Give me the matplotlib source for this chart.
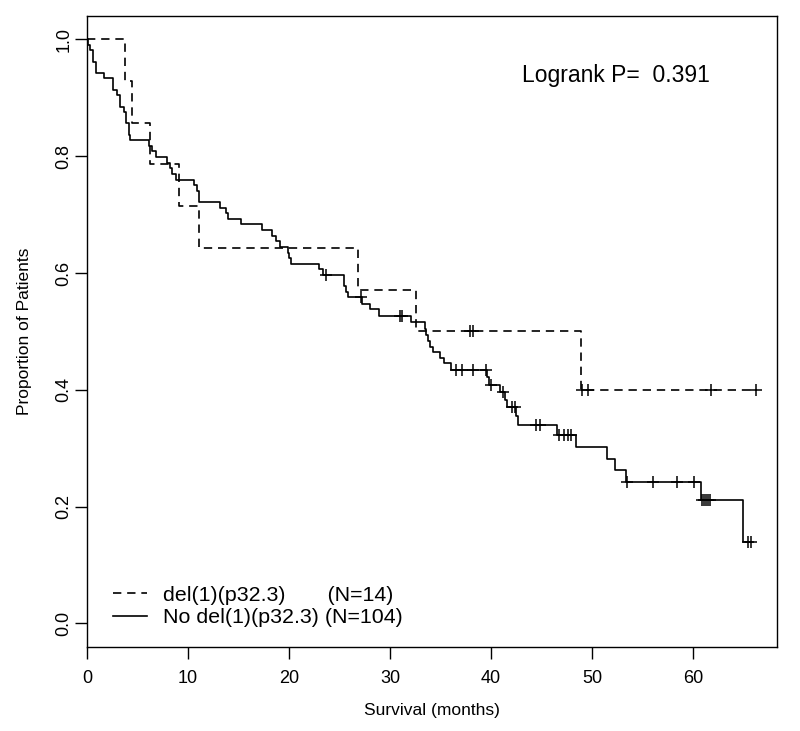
import matplotlib
matplotlib.use("Agg")
import matplotlib.pyplot as plt

# ---- data (KM steps: time, survival after the drop) ----
del_t = [0, 3.76, 4.49, 6.24, 9.14, 11.09, 26.86, 32.6, 48.9, 66.2]
del_s = [1.0, 0.929, 0.857, 0.786, 0.714, 0.643, 0.571, 0.5, 0.4, 0.4]
del_cens_t = [37.9, 38.25, 48.97, 49.6, 61.75, 66.2]
del_cens_s = [0.5, 0.5, 0.4, 0.4, 0.4, 0.4]

nodel_t = [0, 0.05, 0.3, 0.6, 0.9, 1.7, 2.6, 3.0, 3.3, 3.65, 3.9, 4.15, 4.3,
           6.1, 6.4, 6.8, 7.9, 8.2, 8.4, 8.8, 10.6, 10.9, 11.1, 13.2, 13.8,
           14.0, 15.2, 17.3, 18.3, 18.7, 19.1, 19.9, 20.0, 20.2, 23.0, 23.4,
           25.4, 25.6, 25.8, 27.2, 28.0, 28.95, 32.1, 33.5, 33.6, 33.8, 34.0,
           34.2, 34.9, 35.3, 36.0, 39.6, 39.8, 40.9, 41.4, 41.6, 42.5, 42.7,
           46.5, 48.4, 51.45, 52.3, 53.4, 60.8, 64.9, 65.7]
nodel_s = [1.0, 0.990, 0.981, 0.962, 0.942, 0.933, 0.913, 0.904, 0.885, 0.875,
           0.856, 0.837, 0.827, 0.817, 0.808, 0.798, 0.788, 0.779, 0.769, 0.760,
           0.750, 0.740, 0.721, 0.712, 0.702, 0.693, 0.683, 0.673, 0.664, 0.654,
           0.644, 0.635, 0.625, 0.616, 0.606, 0.596, 0.577, 0.567, 0.558, 0.547,
           0.538, 0.527, 0.516, 0.504, 0.493, 0.484, 0.473, 0.464, 0.455, 0.445,
           0.434, 0.421, 0.408, 0.396, 0.383, 0.370, 0.355, 0.339, 0.322, 0.302,
           0.282, 0.262, 0.242, 0.211, 0.140, 0.140]
nodel_cens_t = [23.7, 27.1, 31.0, 31.15, 36.5, 37.1, 38.25, 39.5, 40.0, 41.2,
                42.05, 42.4, 44.4, 44.85, 46.7, 47.2, 47.6, 47.9, 53.5, 56.0,
                58.4, 60.1, 60.9, 61.1, 61.3, 61.5, 61.7, 65.4, 65.7]
nodel_cens_s = [0.596, 0.558, 0.527, 0.527, 0.434, 0.434, 0.434, 0.434, 0.408,
                0.396, 0.370, 0.370, 0.339, 0.339, 0.322, 0.322, 0.322, 0.322,
                0.242, 0.242, 0.242, 0.242, 0.211, 0.211, 0.211, 0.211, 0.211,
                0.140, 0.140]

labels = ["del(1)(p32.3)       (N=14)", "No del(1)(p32.3) (N=104)"]
x_ticks = [0, 10, 20, 30, 40, 50, 60]
y_ticks = [0.0, 0.2, 0.4, 0.6, 0.8, 1.0]

plt.rcParams.update({"font.family": ["Liberation Sans", "DejaVu Sans"]})
fig = plt.figure(figsize=(8, 7.31), dpi=100)
ax = fig.add_axes([0.10875, 0.1153, 0.8625, 0.8628])

dash = (0, (5, 3.5))
ax.step(del_t, del_s, where="post", color="black", lw=1.2, ls=dash, label=labels[0])
ax.step(nodel_t, nodel_s, where="post", color="black", lw=1.2, label=labels[1])
ax.plot(del_cens_t, del_cens_s, ls="none", marker="+", ms=8, mew=1.1, color="black")
ax.plot(nodel_cens_t, nodel_cens_s, ls="none", marker="+", ms=8, mew=1.1, color="black")

ax.set_xlim(0, 68.3)
ax.set_ylim(-0.04, 1.04)
ax.set_xticks(x_ticks)
ax.set_yticks(y_ticks)
ax.set_yticklabels([f"{v:.1f}" for v in y_ticks], rotation=90, va="center")
ax.tick_params(direction="out", length=8.5, width=1, labelsize=13)
ax.tick_params(axis="x", pad=8)
ax.tick_params(axis="y", pad=2)
for s in ax.spines.values():
    s.set_linewidth(1)

ax.set_xlabel("Survival (months)", fontsize=12.5, labelpad=12)
ax.set_ylabel("Proportion of Patients", fontsize=12.5, labelpad=17)

ax.text(0.63, 0.906, "Logrank P=  0.391", transform=ax.transAxes,
        fontsize=16.5, va="center", ha="left")

ax.legend(loc="lower left", bbox_to_anchor=(0.038, 0.031), frameon=False,
          fontsize=15.4, handlelength=1.6, handletextpad=0.75,
          labelspacing=0.15, borderpad=0, borderaxespad=0)

fig.savefig("out.png", dpi=100, facecolor="white")
